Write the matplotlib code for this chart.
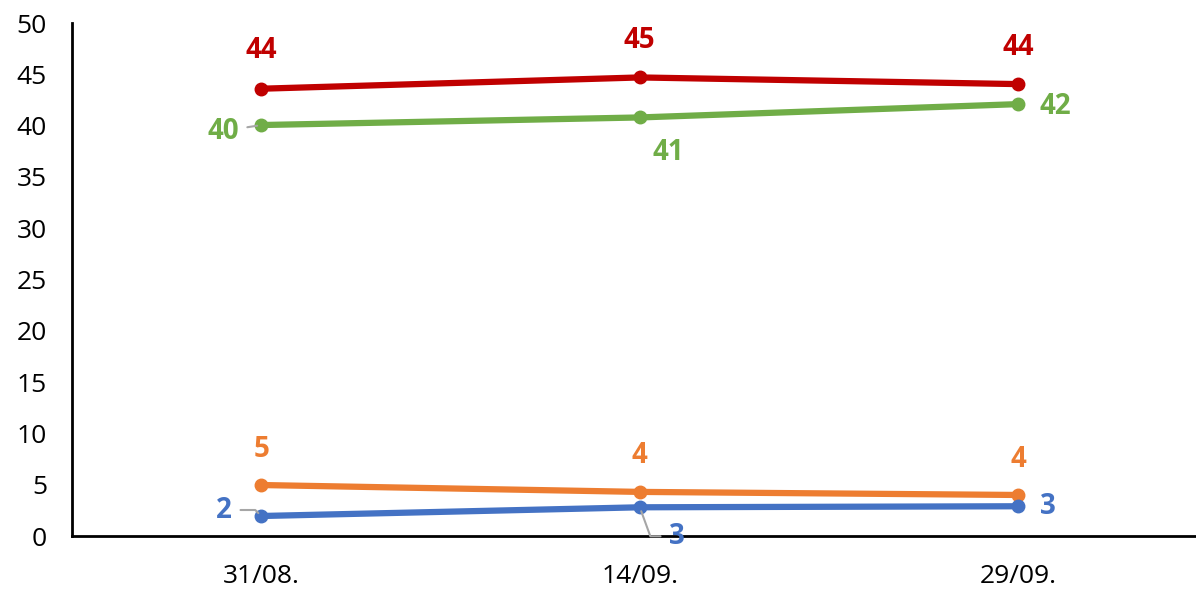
import matplotlib
matplotlib.use('Agg')
import matplotlib.pyplot as plt

# data
dates = ['31/08.', '14/09.', '29/09.']
red = [43.6, 44.7, 44.05]
green = [40.06, 40.8, 42.1]
orange = [4.97, 4.3, 4.0]
blue = [1.95, 2.8, 2.9]

plt.rcParams['font.family'] = ['Open Sans', 'DejaVu Sans']

fig = plt.figure(figsize=(11.96, 5.93), dpi=100)
ax = fig.add_axes([0.0602, 0.0961, 0.94, 0.865])

series = [
    (red, '#C00000'),
    (green, '#70AD47'),
    (orange, '#ED7D31'),
    (blue, '#4472C4'),
]
x = list(range(len(dates)))
for vals, col in series:
    ax.plot(x, vals, color=col, lw=4.5, marker='o', ms=9, solid_capstyle='round')

# label offsets in pixels (dx, dy) per point
offsets = {
    '#C00000': [(0, 38), (0, 37), (0, 37)],
    '#70AD47': [(-38, -6), (29, -35), (37, -2)],
    '#ED7D31': [(0, 36), (0, 36), (0, 35)],
    '#4472C4': [(-37, 6), (37, -29), (30, 0)],
}
leader = {('#70AD47', 0), ('#4472C4', 0), ('#4472C4', 1)}

for vals, col in series:
    for i, v in enumerate(vals):
        dx, dy = offsets[col][i]
        props = None
        if (col, i) in leader:
            if (col, i) == ('#4472C4', 1):
                cs = 'angle,angleA=0,angleB=110,rad=0'
            elif (col, i) == ('#4472C4', 0):
                cs = 'angle,angleA=0,angleB=-45,rad=0'
            else:
                cs = 'arc3'
            props = dict(arrowstyle='-', color='#A6A6A6', lw=1.5,
                         shrinkA=4, shrinkB=3, connectionstyle=cs)
        ax.annotate(f'{round(v):d}', (i, v), xytext=(dx, dy),
                    textcoords='offset pixels', ha='center', va='center',
                    color=col, fontsize=20, fontweight='bold',
                    arrowprops=props)

ax.set_xlim(-0.5, 2.47)
ax.set_ylim(0, 50)
ax.set_yticks(range(0, 51, 5))
ax.set_xticks(x)
ax.set_xticklabels(dates)
ax.tick_params(axis='both', length=0, labelsize=19, colors='black')
ax.tick_params(axis='x', pad=20)
ax.tick_params(axis='y', pad=18)

ax.spines['top'].set_visible(False)
ax.spines['right'].set_visible(False)
ax.spines['left'].set_linewidth(2)
ax.spines['bottom'].set_linewidth(2)

fig.savefig('out.png', dpi=100)
